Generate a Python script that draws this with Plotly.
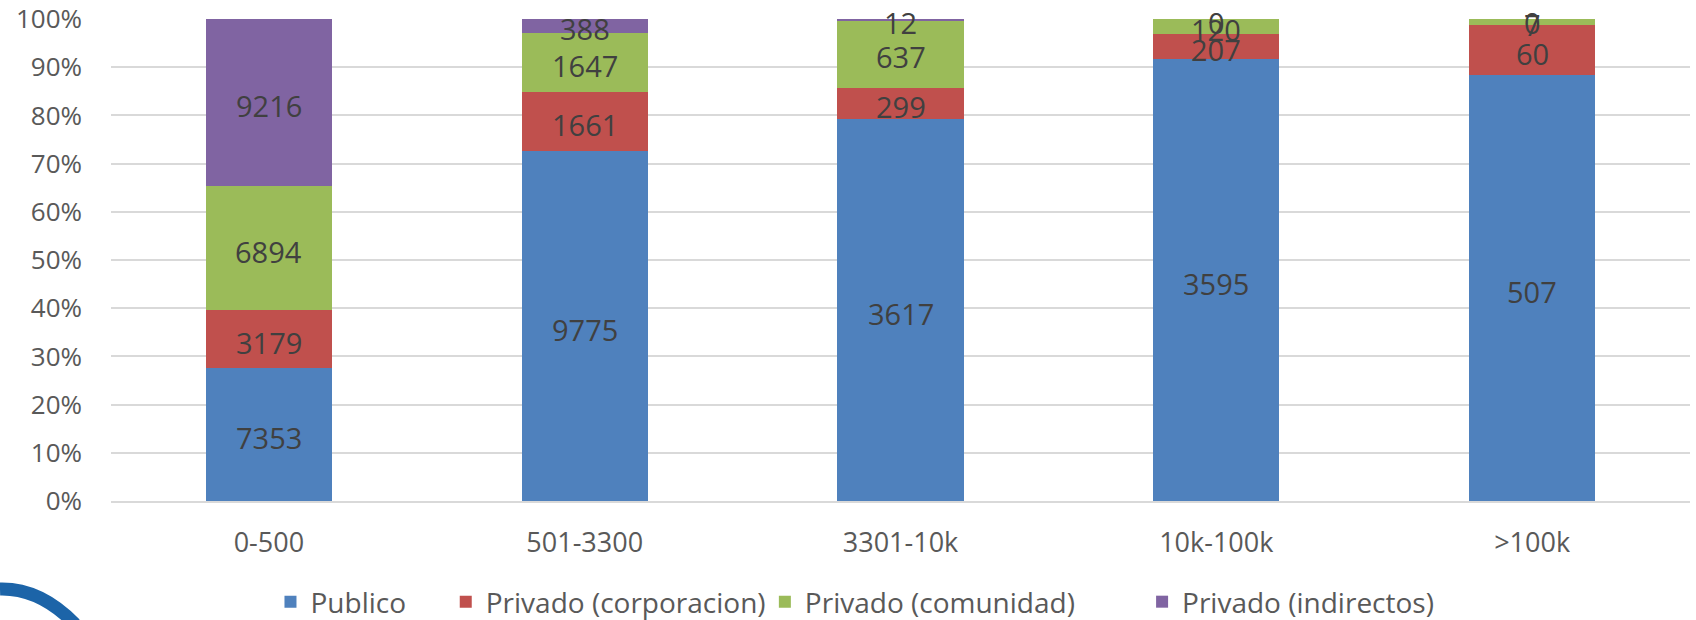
import plotly.graph_objects as go

categories = ["0-500", "501-3300", "3301-10k", "10k-100k", ">100k"]
publico = [7353, 9775, 3617, 3595, 507]
priv_corporacion = [3179, 1661, 299, 207, 60]
priv_comunidad = [6894, 1647, 637, 120, 7]
priv_indirectos = [9216, 388, 12, 0, 0]

series_names = ["Publico", "Privado (corporacion)", "Privado (comunidad)", "Privado (indirectos)"]
series_values = [publico, priv_corporacion, priv_comunidad, priv_indirectos]
colors = ["#4F81BD", "#C0504D", "#9BBB59", "#8064A2"]
legend_ids = ["legend", "legend2", "legend3", "legend4"]
legend_x = [0.1010, 0.2120, 0.4141, 0.6530]

FONT = "Open Sans"

totals = [sum(s[i] for s in series_values) for i in range(len(categories))]

fig = go.Figure()
for name, vals, col, lid in zip(series_names, series_values, colors, legend_ids):
    pct = [100.0 * v / t for v, t in zip(vals, totals)]
    fig.add_trace(go.Bar(
        name=name, x=categories, y=pct,
        marker=dict(color=col, line=dict(width=0)),
        width=0.4, hoverinfo="skip", legend=lid,
    ))

# data labels (raw values) at the middle of each stacked segment
annotations = []
base = [0.0] * len(categories)
for name, vals in zip(series_names, series_values):
    for i, (v, t) in enumerate(zip(vals, totals)):
        p = 100.0 * v / t
        annotations.append(dict(
            x=categories[i], y=base[i] + p / 2, xref="x", yref="y",
            text=str(v), showarrow=False, xanchor="center", yanchor="middle",
            yshift=-3, font=dict(family=FONT, size=29, color="#404040"),
        ))
        base[i] += p

legend_common = dict(orientation="h", yanchor="middle", y=-0.2095, xanchor="left",
                     font=dict(family=FONT, size=28, color="#595959"),
                     bgcolor="rgba(0,0,0,0)")
layout_legends = {lid: dict(legend_common, x=lx) for lid, lx in zip(legend_ids, legend_x)}

fig.update_layout(
    barmode="stack",
    width=1696, height=620,
    margin=dict(l=111, r=6, t=19, b=119, autoexpand=False),
    plot_bgcolor="white", paper_bgcolor="white",
    font=dict(family=FONT, color="#595959"),
    yaxis=dict(range=[0, 100], dtick=10, ticksuffix="%", showgrid=True,
               gridcolor="#D9D9D9", gridwidth=1.5, zeroline=False, automargin=False,
               tickfont=dict(family=FONT, size=26, color="#595959"),
               ticklabelstandoff=28, ticklabeloverflow="allow", fixedrange=True),
    xaxis=dict(showline=True, linecolor="#D9D9D9", linewidth=1.5, automargin=False,
               range=[-0.5, 4.5],
               tickfont=dict(family=FONT, size=27, color="#595959"),
               ticklabelstandoff=17),
    showlegend=True,
    annotations=annotations,
    **layout_legends,
)

# decorative logo arc, bottom-left
fig.add_shape(type="path", xref="paper", yref="paper",
              path="M -0.0703,-0.1826 Q -0.0450,-0.1805 -0.0228,-0.2552",
              line=dict(color="#1C64A8", width=13))

fig.write_html("out.html", config={"displayModeBar": False},
               post_script="document.body.style.margin='0';document.body.style.overflow='hidden';")
